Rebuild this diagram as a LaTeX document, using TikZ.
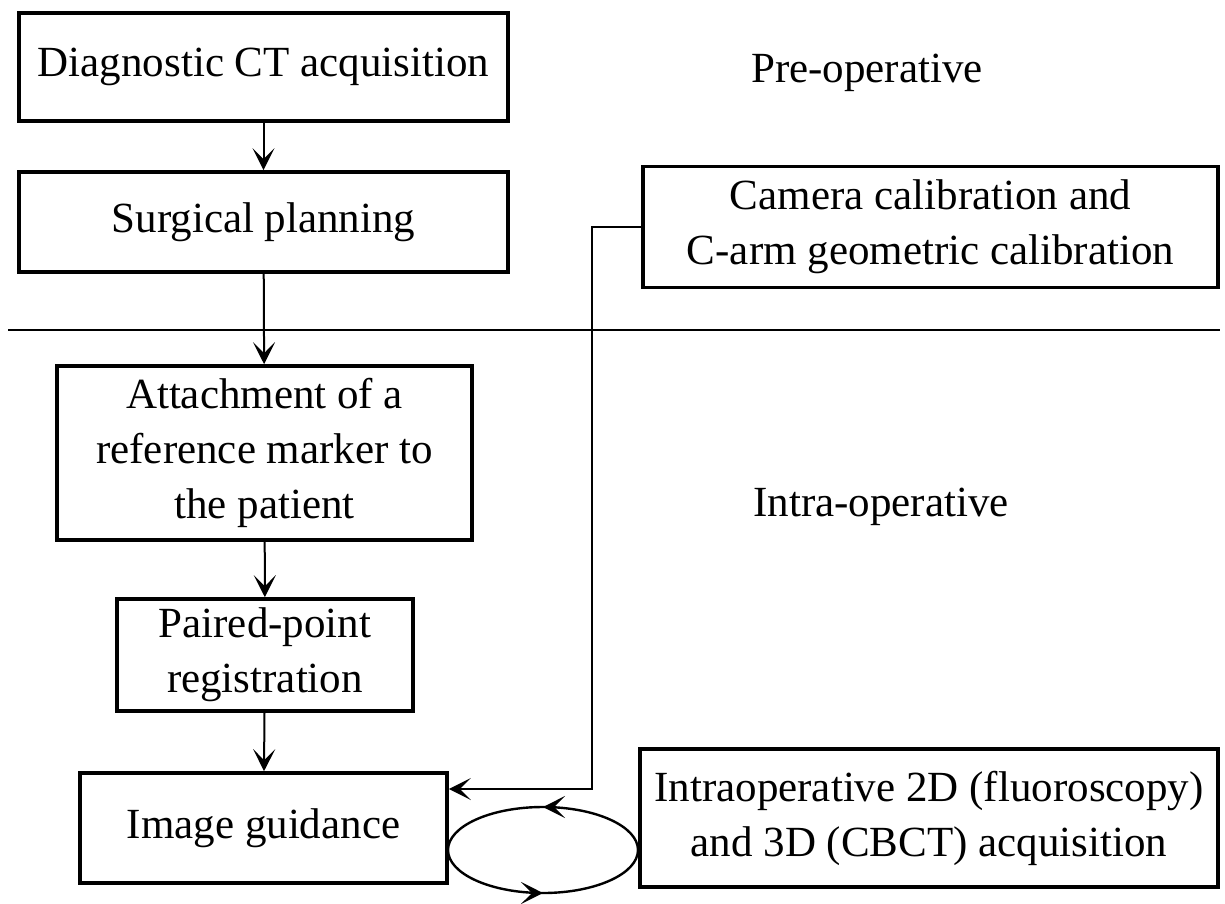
\documentclass[tikz,border=0pt]{standalone}
\usepackage{fontspec}
\setmainfont{Liberation Serif}
\usepackage{tikz}
\usetikzlibrary{positioning, arrows.meta, decorations.markings}

\begin{document}
\begin{tikzpicture}[x=0.5pt, y=0.5pt,
	box/.style={draw, line width=1.8pt, align=center, inner sep=0pt},
	arrow/.style={line width=1pt, -{Stealth[length=11pt, width=11pt, inset=5.5pt]}},
	midarrow/.style={line width=1.2pt, postaction={decorate},
		decoration={markings, mark=at position 0.5 with {\arrow{Stealth[length=11pt, width=11pt, inset=5.5pt]}}}},
	font=\fontsize{21.5}{27.5}\selectfont]
	\useasboundingbox (0,0) rectangle (1225,-904);

	% Define the size of the loop between the two lower boxes
	\newcommand\LoopRx{95}
	\newcommand\LoopRy{43}

	% Boxes of the left column
	\node[box, minimum width=244.5pt, minimum height=54pt] (diag) at (263.5,-67) {Diagnostic CT acquisition};
	\node[box, minimum width=244.5pt, minimum height=50pt] (surg) at (263.5,-222) {Surgical planning};
	\node[box, minimum width=207.5pt, minimum height=87pt] (attach) at (264.5,-453) {Attachment of a\\ reference marker to\\ the patient};
	\node[box, minimum width=148pt, minimum height=56pt] (paired) at (265,-655) {Paired-point\\ registration};
	\node[box, minimum width=183.5pt, minimum height=55pt] (guide) at (263.5,-828) {Image guidance};

	% Boxes on the right
	\node[box, minimum width=287.5pt, minimum height=60.5pt] (cam) at (930.5,-227) {Camera calibration and\\ C-arm geometric calibration};
	\node[box, minimum width=289pt, minimum height=69pt] (intra) at (929,-818) {Intraoperative 2D (fluoroscopy)\\ and 3D (CBCT) acquisition};

	% Phase labels
	\node (pre) at (867,-73) {Pre-operative};
	\node (intraop) at (881,-507) {Intra-operative};

	% Line between the two phases
	\draw[line width=1.4pt] (8,-330) -- (1220,-330);

	% Connect the boxes of the left column
	\foreach \a/\b in {diag/surg, surg/attach, attach/paired, paired/guide} {
		\draw[arrow] (\a) -- (\b);
	}

	% Calibration feeds the image guidance
	\coordinate (join) at (592,-789);
	\draw[arrow] (cam.west) -| (join) -- (join -| guide.east);

	% Loop between image guidance and acquisition
	\coordinate (loopR) at (638,-850);
	\coordinate (loopL) at (448,-850);
	\draw[midarrow] (loopR) arc[start angle=0, end angle=180, x radius=\LoopRx, y radius=\LoopRy];
	\draw[midarrow] (loopL) arc[start angle=180, end angle=360, x radius=\LoopRx, y radius=\LoopRy];
\end{tikzpicture}
\end{document}
